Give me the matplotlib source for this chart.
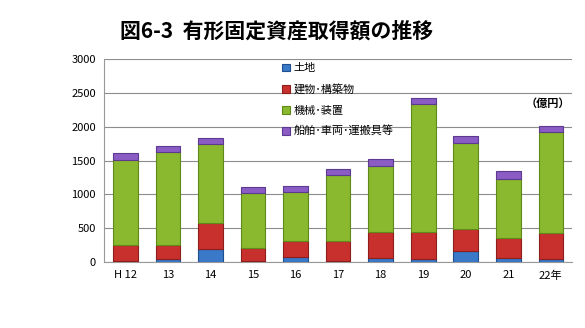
import numpy as np
import matplotlib.pyplot as plt

plt.rcParams['font.family'] = ['Noto Sans CJK JP', 'DejaVu Sans']

years = ["H 12", "13", "14", "15", "16", "17", "18", "19", "20", "21", "22年"]
land = [10, 45, 190, 15, 75, 20, 55, 45, 165, 55, 45]
buildings = [245, 210, 380, 195, 230, 290, 385, 395, 320, 305, 380]
machinery = [1260, 1365, 1175, 815, 735, 970, 985, 1890, 1275, 865, 1495]
vehicles = [90, 95, 95, 80, 85, 95, 95, 90, 100, 125, 95]
series_names = ["土地", "建物･構築物", "機械･装置", "船舶･車両･運搬具等"]

colors = ["#3a78c8", "#c8302e", "#8ab82e", "#8a5cc4"]
edges = ["#1f4f8f", "#8e1e1c", "#5f8a1a", "#5c3a8f"]

fig = plt.figure(figsize=(5.85, 3.28), dpi=100)
ax = fig.add_axes([0.178, 0.201, 0.800, 0.619])

x = np.arange(len(years))
bottom = np.zeros(len(years))
for vals, name, c, ec in zip([land, buildings, machinery, vehicles], series_names, colors, edges):
    ax.bar(x, vals, width=0.58, bottom=bottom, color=c, edgecolor=ec,
           linewidth=0.8, label=name, zorder=3)
    bottom += np.array(vals)

ax.set_xlim(-0.5, len(years) - 0.5)
ax.set_ylim(0, 3000)
ax.set_yticks(range(0, 3001, 500))
ax.set_xticks(x)
ax.set_xticklabels(years)
ax.tick_params(axis='both', labelsize=8, length=0, pad=6)
ax.yaxis.grid(True, color="0.55", linewidth=0.8, zorder=0)
for s in ['top', 'right']:
    ax.spines[s].set_visible(False)
ax.spines['left'].set_color("0.6")
ax.spines['bottom'].set_color("0.6")

ax.legend(loc='upper left', bbox_to_anchor=(0.37, 1.0), frameon=False,
          fontsize=8, handlelength=0.7, handleheight=0.7, handletextpad=0.4,
          labelspacing=0.95, borderaxespad=0)

ax.text(0.995, 0.78, "（億円）", transform=ax.transAxes, ha='right', va='center',
        fontsize=8, fontweight='bold')

fig.text(0.472, 0.905, "図6-3  有形固定資産取得額の推移", ha='center', va='center',
         fontsize=15, fontweight='bold')

plt.savefig("out.png", dpi=100)
